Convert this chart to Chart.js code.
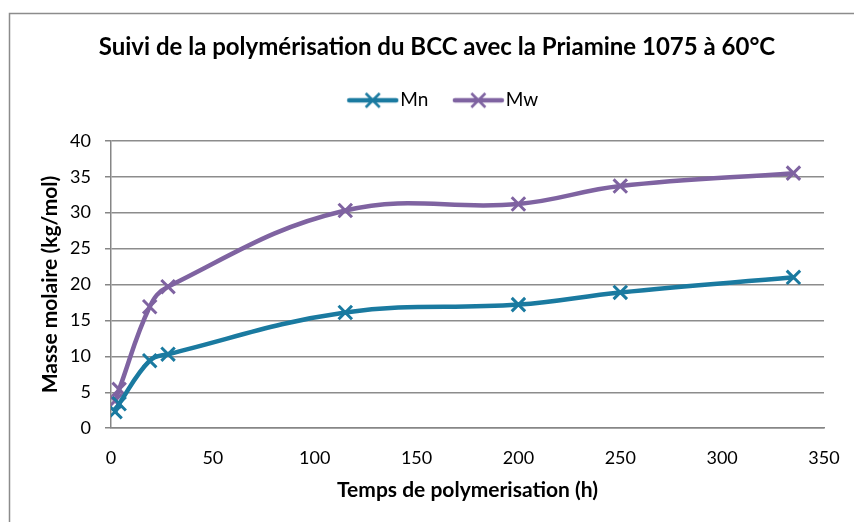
<!DOCTYPE html>
<html>
<head>
<meta charset="utf-8">
<script src="https://cdn.jsdelivr.net/npm/chart.js@4"></script>
<style>
  html, body { margin: 0; padding: 0; background: #fff; }
  #wrap { width: 854px; height: 522px; }
</style>
</head>
<body>
<div id="wrap"><canvas id="chart"></canvas></div>
<script>
// --- DATA --- //
const hours = [2, 4, 19, 28, 115, 200, 250, 335]
const mnValues = [2.3, 3.4, 9.4, 10.3, 16.1, 17.2, 18.9, 21.0]
const mwHours = [2, 4, 19, 28, 115, 200, 250, 335]
const mwValues = [3.8, 5.4, 16.9, 19.7, 30.3, 31.2, 33.7, 35.5]
const xTicks = [0, 50, 100, 150, 200, 250, 300, 350]
const yTicks = [0, 5, 10, 15, 20, 25, 30, 35, 40]

const MN_COLOR = '#1a7aa0'
const MW_COLOR = '#7f63a1'
const FONT = "Lato, 'Open Sans', sans-serif"

// legend symbol: line with a cross in the middle (left part of the image left blank)
function legendSymbol(color) {
  const c = document.createElement('canvas')
  c.width = 72
  c.height = 18
  const ctx = c.getContext('2d')
  ctx.strokeStyle = color
  ctx.lineWidth = 4.5
  ctx.lineCap = 'round'
  ctx.beginPath()
  ctx.moveTo(22, 9)
  ctx.lineTo(69, 9)
  ctx.stroke()
  ctx.lineWidth = 2.5
  ctx.lineCap = 'butt'
  ctx.beginPath()
  ctx.moveTo(38.5, 2)
  ctx.lineTo(52.5, 16)
  ctx.moveTo(52.5, 2)
  ctx.lineTo(38.5, 16)
  ctx.stroke()
  return c
}

const toPoints = (xs, ys) => xs.map((x, i) => ({ x, y: ys[i] }))

// --- FRAME --- //
const frame = {
  id: 'frame',
  afterDraw: chart => {
    const ctx = chart.ctx
    ctx.save()
    ctx.strokeStyle = '#8c8c8c'
    ctx.lineWidth = 1.5
    ctx.beginPath()
    ctx.moveTo(9.5, 530)
    ctx.lineTo(9.5, 13.5)
    ctx.lineTo(860, 13.5)
    ctx.stroke()
    ctx.restore()
  }
}

const seriesStyle = {
  borderWidth: 4.5,
  tension: 0.4,
  pointStyle: 'crossRot',
  pointRadius: 9.5,
  pointBorderWidth: 3
}

const dataLine = {
  datasets: [
    {
      label: 'Mn',
      data: toPoints(hours, mnValues),
      borderColor: MN_COLOR,
      backgroundColor: MN_COLOR,
      ...seriesStyle,
      legendSymbol: legendSymbol(MN_COLOR)
    },
    {
      label: 'Mw',
      data: toPoints(mwHours, mwValues),
      borderColor: MW_COLOR,
      backgroundColor: MW_COLOR,
      ...seriesStyle,
      legendSymbol: legendSymbol(MW_COLOR)
    }
  ]
}

const configLine = {
  type: 'line',
  data: dataLine,
  options: {
    responsive: true,
    maintainAspectRatio: false,
    animation: false,
    layout: {
      padding: { top: 33, left: 50, right: 30, bottom: 15 }
    },
    scales: {
      x: {
        type: 'linear',
        min: 0,
        max: 350,
        afterBuildTicks: scale => { scale.ticks = xTicks.map(v => ({ value: v })) },
        grid: { display: false, drawOnChartArea: false, tickLength: 6, tickColor: '#868686' },
        border: { color: '#868686', width: 1.5 },
        ticks: { color: '#000', font: { family: FONT, size: 18 }, padding: 13.5, maxRotation: 0 },
        title: {
          display: true,
          text: 'Temps de polymerisation (h)',
          color: '#000',
          font: { family: FONT, size: 21, weight: 'bold' },
          padding: { top: -5 }
        }
      },
      // empty band between the legend and the plot
      spacer: {
        type: 'linear',
        position: 'top',
        afterFit: scale => { scale.height = 21 },
        grid: { display: false },
        border: { display: false },
        ticks: { display: false }
      },
      y: {
        min: 0,
        max: 40,
        afterBuildTicks: scale => { scale.ticks = yTicks.map(v => ({ value: v })) },
        afterFit: scale => { scale.width = 61 },
        grid: { color: '#8c8c8c', lineWidth: 1.5, tickLength: 6, tickColor: '#868686' },
        border: { color: '#868686', width: 1.5 },
        ticks: { color: '#000', font: { family: FONT, size: 18 }, padding: 14 },
        title: {
          display: true,
          text: 'Masse molaire (kg/mol)',
          color: '#000',
          font: { family: FONT, size: 21, weight: 'bold' },
          padding: { top: -12, bottom: 4 }
        }
      }
    },
    plugins: {
      title: {
        display: true,
        text: 'Suivi de la polymérisation du BCC avec la Priamine 1075 à 60°C',
        color: '#000',
        font: { family: FONT, size: 24, weight: 'bold' },
        padding: { top: 0, bottom: 16 }
      },
      legend: {
        labels: {
          color: '#000',
          font: { family: FONT, size: 19 },
          usePointStyle: true,
          pointStyleWidth: 55,
          padding: 13,
          generateLabels: chart => chart.data.datasets.map((ds, i) => ({
            text: ds.label,
            pointStyle: ds.legendSymbol,
            fontColor: '#000',
            datasetIndex: i,
            hidden: false
          }))
        }
      },
      tooltip: { enabled: false }
    }
  },
  plugins: [frame]
}

const chartMain = new Chart(document.getElementById('chart'), configLine)
</script>
</body>
</html>
